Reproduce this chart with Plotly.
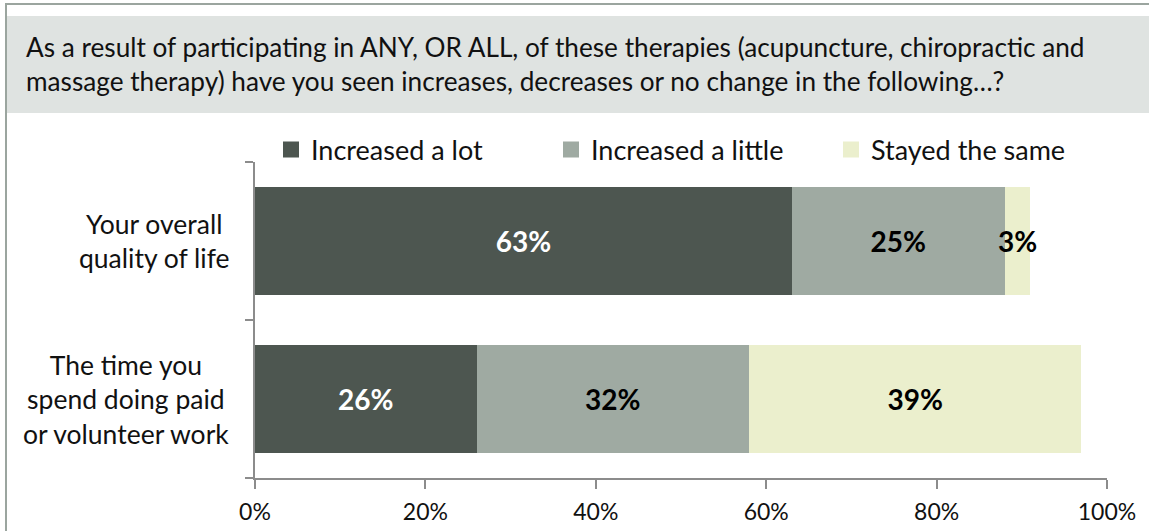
import plotly.graph_objects as go

categories = ["Your overall<br>quality of life", "The time you<br>spend doing paid<br>or volunteer work"]
series_names = ["Increased a lot", "Increased a little", "Stayed the same"]
increased_lot = [63, 26]
increased_little = [25, 32]
stayed_same = [3, 39]
series_values = [increased_lot, increased_little, stayed_same]
series_colors = ["#4d5650", "#9faaa2", "#ebefcd"]
label_colors = ["#ffffff", "#000000", "#000000"]
x_ticks = [0, 20, 40, 60, 80, 100]
x_tick_labels = ["0%", "20%", "40%", "60%", "80%", "100%"]
question = ("As a result of participating in ANY, OR ALL, of these therapies (acupuncture, chiropractic and<br>"
            "massage therapy) have you seen increases, decreases or no change in the following\u2026?")

W, H = 1149, 531
L, R, T, B = 255, 42, 162, 53
PW, PH = W - L - R, H - T - B


def px(x):
    return (x - L) / PW


def py(y):
    return (H - B - y) / PH


FONT = "Lato"
fig = go.Figure()
for name, vals, col, lc in zip(series_names, series_values, series_colors, label_colors):
    fig.add_trace(go.Bar(
        y=categories, x=vals, name=name, orientation="h", legendgroup=name, showlegend=False,
        marker=dict(color=col, line=dict(width=0)),
        text=[f"{v}%" for v in vals], textposition="inside", insidetextanchor="middle",
        textangle=0, constraintext="none",
        textfont=dict(family=FONT, size=28, color=lc, weight="bold"),
        hoverinfo="skip",
    ))
# legend entries (square swatches matching the reference size)
for name, col in zip(series_names, series_colors):
    fig.add_trace(go.Scatter(
        x=[None], y=[None], mode="markers", name=name, legendgroup=name, showlegend=True,
        marker=dict(symbol="square", size=16, color=col, line=dict(width=0)),
        hoverinfo="skip",
    ))

shapes = [
    # outer frame lines
    dict(type="line", xref="paper", yref="paper", x0=px(5), x1=px(W), y0=py(4), y1=py(4),
         line=dict(color="#9ba59f", width=2)),
    dict(type="line", xref="paper", yref="paper", x0=px(6), x1=px(6), y0=py(4), y1=py(H),
         line=dict(color="#9ba59f", width=2)),
    # question box
    dict(type="rect", xref="paper", yref="paper", x0=px(5), x1=px(W + 5), y0=py(16), y1=py(113),
         fillcolor="#dfe3e1", line=dict(width=0), layer="below"),
]

annotations = [
    dict(text=question, xref="paper", yref="paper", x=px(24), y=py(64), xanchor="left", yanchor="middle",
         align="left", showarrow=False, font=dict(family=FONT, size=26.2, color="#111111")),
]
for cat in categories:
    annotations.append(dict(text=cat, xref="paper", yref="y", x=px(231), y=cat, xanchor="right",
                            yanchor="middle", align="center", showarrow=False,
                            font=dict(family=FONT, size=26.5, color="#111111")))

fig.update_layout(
    width=W, height=H, margin=dict(l=L, r=R, t=T, b=B, autoexpand=False),
    paper_bgcolor="white", plot_bgcolor="white",
    barmode="stack", bargap=0.32,
    font=dict(family=FONT, color="#111111"),
    showlegend=True,
    legend=dict(orientation="h", x=px(271), xanchor="left", y=py(150), yanchor="middle",
                entrywidth=235, font=dict(family=FONT, size=27, color="#111111"),
                traceorder="normal", bgcolor="rgba(0,0,0,0)", itemsizing="trace"),
    xaxis=dict(range=[0, 100], tickvals=x_ticks, ticktext=x_tick_labels, showgrid=False, zeroline=False,
               showline=True, linecolor="#8c8c8c", linewidth=1.5, ticks="outside", ticklen=9,
               tickcolor="#8c8c8c", tickwidth=1.5, tickfont=dict(family=FONT, size=23, color="#111111"),
               ticklabelstandoff=4, fixedrange=True),
    yaxis=dict(categoryorder="array", categoryarray=categories[::-1],
               showticklabels=False, showgrid=False, zeroline=False, showline=True,
               linecolor="#8c8c8c", linewidth=1.5, ticks="outside", ticklen=8, tickcolor="#8c8c8c",
               tickwidth=1.5, tickson="boundaries", fixedrange=True),
    shapes=shapes, annotations=annotations,
)

fig.write_html("out.html", config={"displayModeBar": False},
               post_script="document.body.style.margin='0';document.body.style.overflow='hidden';")
